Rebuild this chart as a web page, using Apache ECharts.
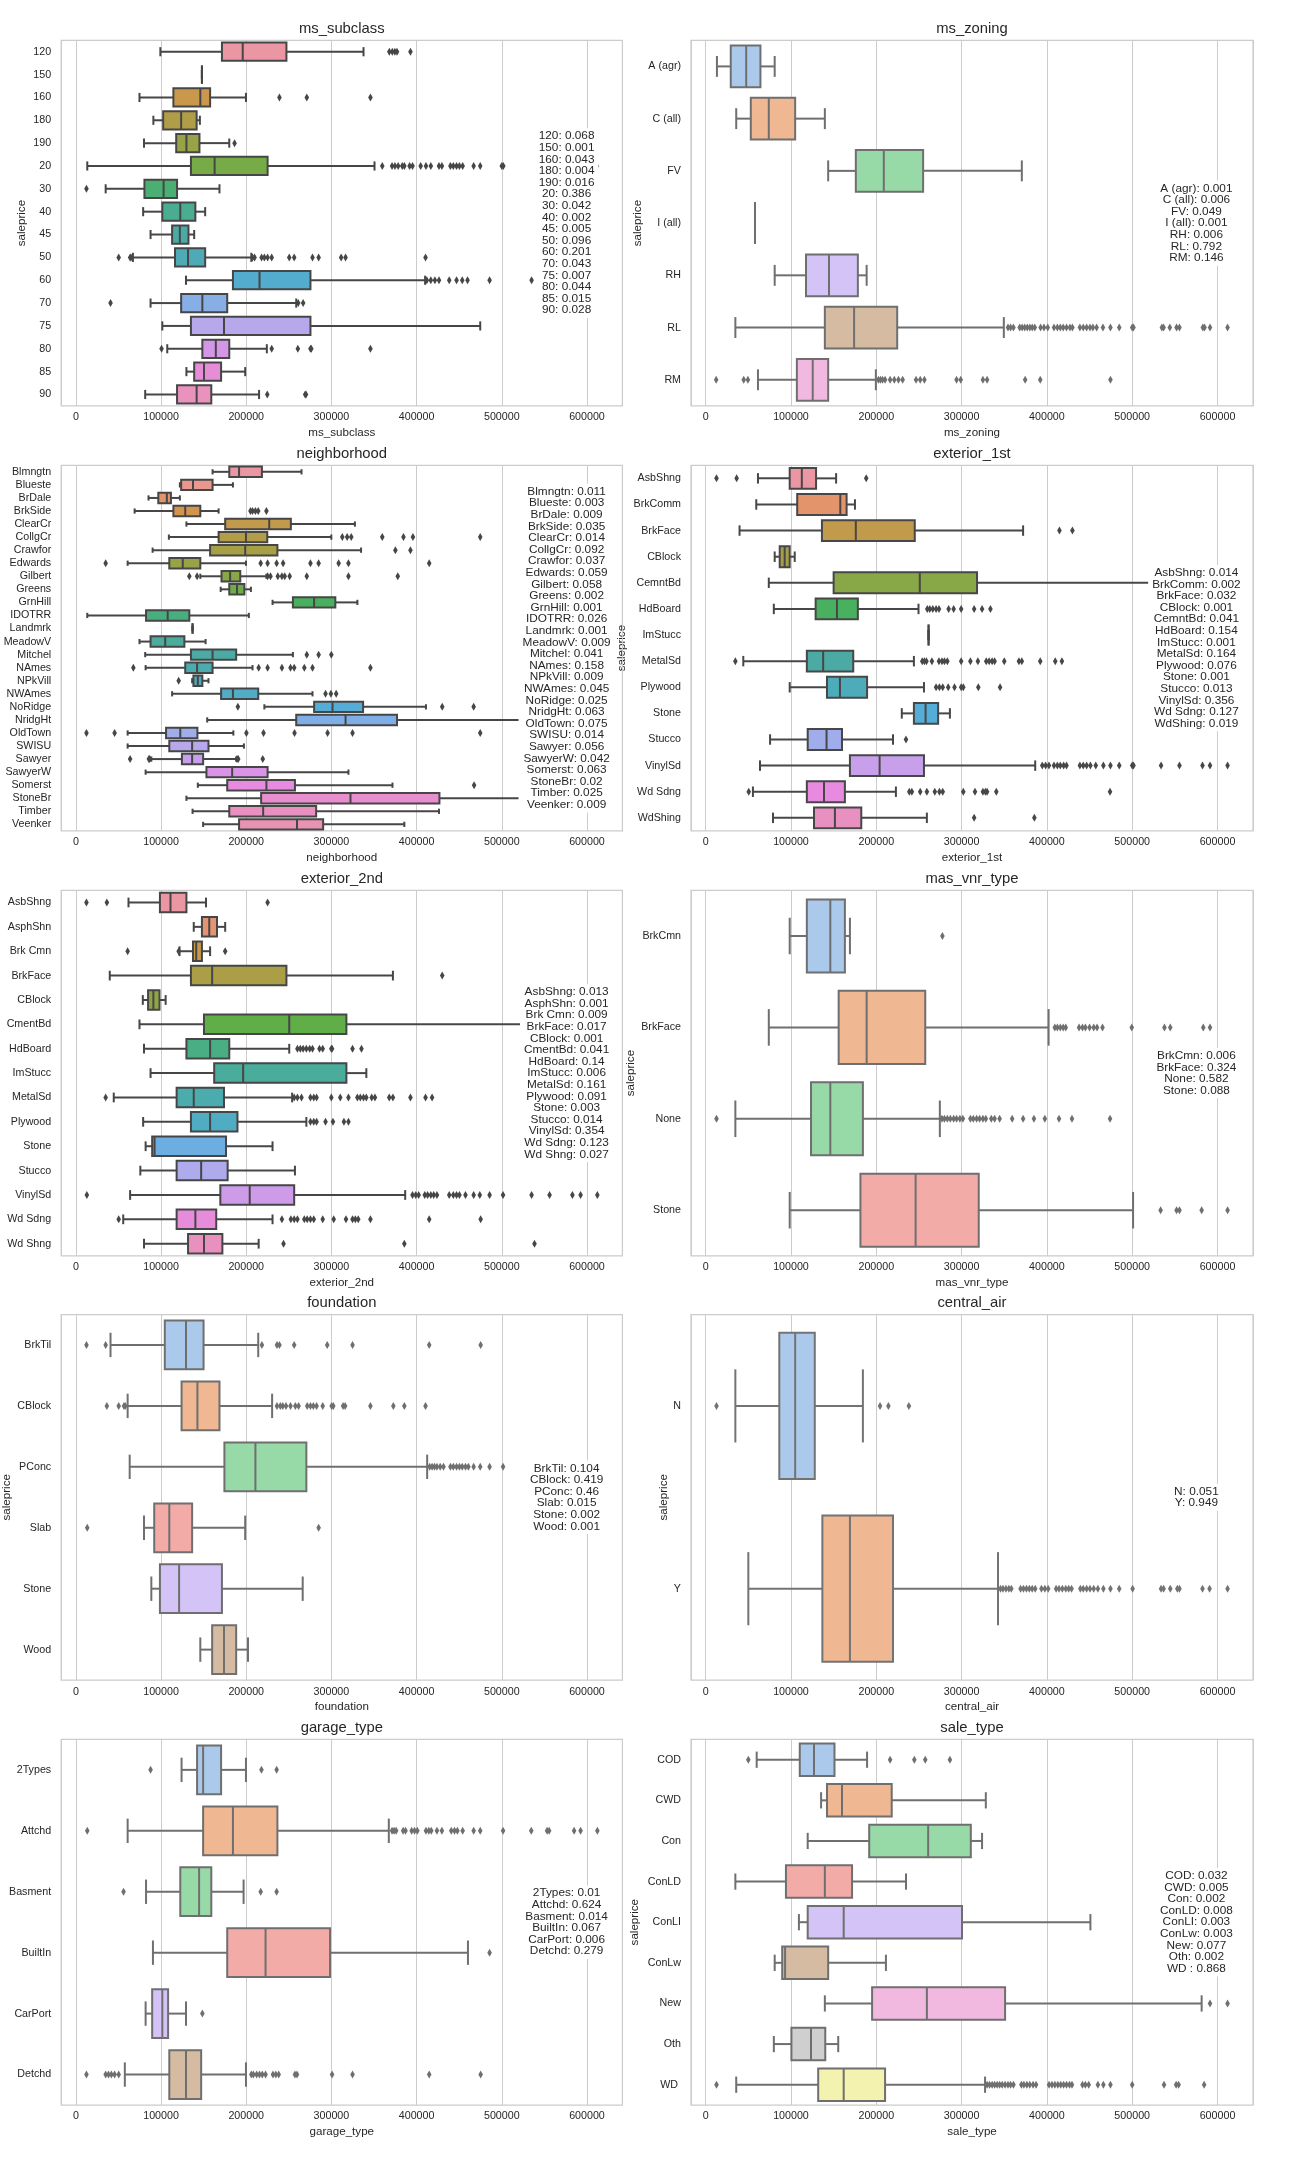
<!DOCTYPE html>
<html><head><meta charset="utf-8">
<script src="https://cdn.jsdelivr.net/npm/echarts@6/dist/echarts.min.js"></script>
<style>html,body{margin:0;padding:0;background:#fff}#c{width:1296px;height:2160px}</style>
</head><body><div id="c"></div>
<script>
// ---------------- DATA ----------------
// box rows: [whisker low, Q1, median, Q3, whisker high]
const msSubclassCats = ['120','150','160','180','190','20','30','40','45','50','60','70','75','80','85','90'];
const msSubclassBox = [
 [99200,171500,195900,247200,337700],[148000,148000,148000,148000,148000],[74700,114500,146100,157600,199700],
 [91000,102500,123600,141800,145600],[80000,117800,129800,145100,180100],[13400,135100,162900,225100,350600],
 [35000,80500,103000,118800,168600],[79000,101500,122600,140300,151800],[87700,113000,122100,132200,138900],
 [67000,116400,131700,151800,206000],[129300,184400,215600,275400,410000],[87700,123600,148500,177700,258700],
 [101500,135100,173900,275400,474700],[107300,148500,164300,180100,224200],[129800,138900,150400,170500,198800],
 [81400,118800,141800,159000,215100]];
const msSubclassOut = [
 [368000,371500,374500,377000,392800],[],[239000,271100,345800],[],[186300],
 [359700,371200,374600,378400,383200,385600,391800,395200,404800,411000,416700,426300,429700,439700,443100,446900,450300,454100,467000,474700,500000,501800,611700],
 [12450],[],[],
 [50300,63700,64700,207400,209800,218000,221300,225100,229900,250500,256300,277800,285000,311400,316600,410500],
 [412000,416700,421500,426300,438300,446900,453600,459800,485700,535000,546000],
 [40700,261000,266800],[],[100600,229900,260600,275400,276400,345800],[],[224700,269200,270200]];
const msSubclassShare = ['0.068','0.001','0.043','0.004','0.016','0.386','0.042','0.002','0.005','0.096','0.201','0.043','0.007','0.044','0.015','0.028'];

const msZoningCats = ['A (agr)','C (all)','FV','I (all)','RH','RL','RM'];
const msZoningBox = [
 [13200,29400,47500,64200,80900],[35800,52900,74000,104900,139700],[143600,176000,208800,254900,370600],
 [57800,57800,57800,57800,57800],[80900,117600,144600,178400,188700],[34800,139700,174000,224500,349500],
 [61300,106900,125500,143600,199500]];
const msZoningOut = [[],[],[],[],[],
 [354400,357400,360800,368100,371000,374000,377000,380000,382800,385800,392600,396600,401000,408300,412300,415700,419100,423000,427000,429900,438700,442600,446600,450500,453900,458300,465700,474500,484800,500000,501500,534800,536800,544100,552000,555400,582800,584800,591200,611800],
 [12300,44600,49500,202500,204900,207300,210300,216200,221100,226000,230900,246600,251500,256400,294100,299000,325000,329900,374500,392200,474500]];
const msZoningShare = ['0.001','0.006','0.049','0.001','0.006','0.792','0.146'];

const neighborhoodCats = ['Blmngtn','Blueste','BrDale','BrkSide','ClearCr','CollgCr','Crawfor','Edwards','Gilbert','Greens','GrnHill','IDOTRR','Landmrk','MeadowV','Mitchel','NAmes','NPkVill','NWAmes','NoRidge','NridgHt','OldTown','SWISU','Sawyer','SawyerW','Somerst','StoneBr','Timber','Veenker'];
const neighborhoodBox = [
 [160500,180100,191600,218400,264900],[122100,123600,137500,160500,184400],[85300,96800,106800,111600,122100],
 [69000,114500,128400,146100,167600],[129800,175300,227000,252400,327600],[109200,167600,199700,224700,299900],
 [90100,157600,198800,236600,334800],[60800,109700,125500,146100,199700],[146100,171000,181100,193000,223700],
 [170000,180100,189200,197800,205500],[230900,254800,279700,304600,330500],[13400,82400,107800,133200,203100],
 [137000,137000,137000,137000,137000],[74700,87700,104900,127400,152300],[81400,135100,160500,188200,254800],
 [81900,128400,142300,160500,207400],[136500,138000,143200,148500,155700],[113000,170500,184400,214100,277800],
 [221300,279700,301300,337200,411000],[154200,258700,316600,377000,555000],[60800,105900,122600,142700,184900],
 [60800,109700,136500,155700,197300],[88600,124500,136500,149400,188200],[81900,153300,183500,225100,320000],
 [143200,177700,223700,257200,371700],[129800,217500,322400,426800,556600],[137000,180100,219900,282100,426300],
 [149400,191600,259600,290300,385600]];
const neighborhoodOut = [[],[],[],[205000,207400,210800,214100,223700],[],
 [312800,318500,323300,359700,384600,395700,474700],[375100,392800],
 [35000,217000,225100,235700,243300,275400,285000,308500,320000,414800],
 [133200,142300,225100,228500,237100,241900,245200,251000,271100,320000,377900],
 [],[],[],[],[],[271100,285000,299900],
 [67500,214600,225100,241900,252000,256300,268200,277800,345800],[120700],[293100,299400,305600],
 [190200,430100,467000],[582900,611700],[12450,45500,200200,220300,256700,295500,324800,474700],[],
 [63700,85700,86700,189200,190600,219400],[],[467500],[],[],[]];
const neighborhoodShare = ['0.011','0.003','0.009','0.035','0.014','0.092','0.037','0.059','0.058','0.002','0.001','0.026','0.001','0.009','0.041','0.158','0.009','0.045','0.025','0.063','0.075','0.014','0.056','0.042','0.063','0.02','0.025','0.009'];

const exterior1Cats = ['AsbShng','BrkComm','BrkFace','CBlock','CemntBd','HdBoard','ImStucc','MetalSd','Plywood','Stone','Stucco','VinylSd','Wd Sdng','WdShing'];
const exterior1Box = [
 [61300,98500,112700,129400,152900],[59300,107300,157800,165200,175000],[39700,136300,176000,245100,372100],
 [80900,86800,92600,98500,104400],[74000,150000,251000,318100,556600],[79900,128900,153900,178400,249500],
 [261300,261300,261300,261300,261300],[44100,118600,137700,173000,244100],[98500,142200,157400,189200,255900],
 [229900,244100,257800,272500,286300],[75500,119600,141700,159800,219600],[63700,169100,203900,255900,386300],
 [55400,118600,138700,163200,223000],[78900,127000,151500,182400,259300]];
const exterior1Out = [[12700,36300,188200],[],[414700,429900],[],[],
 [259800,262700,266200,270100,273500,284800,290700,299500,314700,324000,333800],[],
 [34800,253900,256400,258800,265200,273500,277000,279900,283300,299500,310300,319100,328900,332300,335800,338700,350000,367200,370600,392200,409800,417600],
 [270100,274000,277900,284300,291700,299500,302000,319600,345100],[],[234800],
 [394600,398500,402400,408300,412300,415700,419600,423000,438700,442600,446600,451000,457300,466200,474500,484800,500000,501500,533800,555400,582400,591200,611800],
 [50500,238700,241700,251500,259300,268600,274000,277900,302000,315700,325000,327900,329900,340700,474000],
 [314700,385300]];
const exterior1Share = ['0.014','0.002','0.032','0.001','0.041','0.154','0.001','0.164','0.076','0.001','0.013','0.356','0.127','0.019'];

const exterior2Cats = ['AsbShng','AsphShn','Brk Cmn','BrkFace','CBlock','CmentBd','HdBoard','ImStucc','MetalSd','Plywood','Stone','Stucco','VinylSd','Wd Sdng','Wd Shng'];
const exterior2Box = [
 [61800,98700,111100,129800,152800],[138400,148000,156600,165700,175300],[121700,137500,141300,148000,157600],
 [39800,135100,160000,247200,372200],[78600,84800,91000,98200,105400],[74700,150400,250500,317600,556600],
 [80000,129800,157600,180100,250500],[87700,162400,196400,317600,341000],[44500,118300,138400,173900,253900],
 [79000,135100,157600,189700,270600],[81900,89600,92400,176300,230900],[75700,118300,147100,178200,257200],
 [63700,169600,204100,256300,386600],[55600,118300,140300,164800,230900],[80000,131700,150400,172000,214600]];
const exterior2Out = [[12450,36400,225100],[],[60800,120700,175300],[430100],[],[],
 [260100,263500,266800,270600,274500,277800,286000,289800,299900,300800,324800,335300],[],
 [35000,256300,260100,264900,275400,279300,282600,299900,310400,320000,330500,333900,337700,341000,347300,351100,367900,372200,392800,410500,418200],
 [275400,279300,282600,293100,301800,314700,320000],[],[],
 [12900,395200,399000,402400,409600,412900,416700,420100,423900,438300,443100,446900,450300,457400,467000,474200,485700,501500,535000,556100,582900,592500,612200],
 [50300,241900,252400,256300,260100,268200,271600,275400,279300,289800,302700,317100,324800,328100,331500,345800,414800,475200],
 [243800,385600,538400]];
const exterior2Share = ['0.013','0.001','0.009','0.017','0.001','0.041','0.14','0.006','0.161','0.091','0.003','0.014','0.354','0.123','0.027'];

const masVnrCats = ['BrkCmn','BrkFace','None','Stone'];
const masVnrBox = [[98500,118600,146100,163200,169100],[74000,155900,188700,257400,402000],[34800,123500,146100,184300,274500],[98500,181400,246100,320100,501000]];
const masVnrOut = [[277500],
 [409300,412300,415700,419100,422100,437700,441700,445100,450000,454900,458800,465200,499500,537800,544600,583300,591200],
 [12700,277000,279900,283300,286800,290700,294100,298000,301500,310300,313700,317600,321100,325000,328400,334800,338700,344600,359300,372100,384800,397600,414200,429400,474000],
 [533300,552000,555400,581400,611800]];
const masVnrShare = ['0.006','0.324','0.582','0.088'];

const foundationCats = ['BrkTil','CBlock','PConc','Slab','Stone','Wood'];
const foundationBox = [[40700,104400,129300,149900,214100],[60800,124100,142700,168600,230400],[63200,174400,210800,270600,412400],
 [80000,92000,109700,136500,198800],[88600,98700,121200,171500,266300],[146100,160000,173900,188200,202100]];
const foundationOut = [[12450,35000,218400,236100,239000,256300,295100,324800,414800,475200],
 [36400,50300,56500,58000,236100,240000,242900,246700,252000,257700,261500,271600,275400,278800,282600,289800,300300,302200,313700,316100,345800,372700,385600,410500],
 [415300,418200,421000,423900,427700,431600,439700,443100,446900,450300,453600,457400,460800,467000,474700,485700,501500,535000],
 [13400,285000],[],[]];
const foundationShare = ['0.104','0.419','0.46','0.015','0.002','0.001'];

const centralAirCats = ['N','Y'];
const centralAirBox = [[34800,86300,104900,127900,184300],[50000,136800,169100,219600,342700]];
const centralAirOut = [[12700,204400,214200,238200],
 [345600,348500,352000,355400,358300,369100,372500,376000,379400,382800,386300,393600,397600,401500,410800,414200,418100,422100,425500,428900,439200,442600,446600,450500,454900,459800,466200,474500,484800,500500,533800,536800,544600,552900,555400,582400,590700,611800]];
const centralAirShare = ['0.051','0.949'];

const garageCats = ['2Types','Attchd','Basment','BuiltIn','CarPort','Detchd'];
const garageBox = [[124100,142300,149400,170500,199700],[60800,149400,184400,236600,367400],[82400,122600,144700,159000,196900],
 [90500,177700,222700,298400,460300],[81900,89600,101500,108300,129300],[57500,109700,129300,147100,199700]];
const garageOut = [[87700,217900,235700],
 [13400,371200,373600,376000,384200,387000,394200,397600,400900,411000,414300,417200,423900,429700,440700,444500,447900,454100,467000,474700,501500,534600,553200,555600,584900,592500,612200],
 [56000,217000,235700],[485700],[148500],
 [12450,35000,38300,41700,45500,50300,206000,208400,212200,215600,218900,222700,231400,234700,238100,257200,259600,300800,324800,414800,475200]];
const garageShare = ['0.01','0.624','0.014','0.067','0.006','0.279'];

const saleTypeCats = ['COD','CWD','Con','ConLD','ConLI','ConLw','New','Oth','WD '];
const saleTypeBox = [[59800,110300,127000,151000,189200],[135300,142200,159800,218100,328400],[119600,191700,260800,310800,324000],
 [34800,94100,139700,171600,234800],[109300,119600,161800,300500,451000],[80900,89700,93100,143600,211300],
 [139700,195100,259300,351000,581400],[79900,100500,123500,140200,155400],[35800,131900,161800,210300,327500]];
const saleTypeOut = [[50000,216200,244600,257400,286300],[],[],[],[],[],[591200,611800],[],
 [12700,329900,332800,335800,338700,341700,344600,347600,351000,354400,357400,360800,370100,373000,376500,379900,383800,387300,402500,405900,409300,412800,416200,419600,423000,426500,429400,441700,445100,449000,459800,466200,474500,500000,537300,551500,554400,584300]];
const saleTypeShare = ['0.032','0.005','0.002','0.008','0.003','0.003','0.077','0.002','0.868'];

// ---------------- STYLE / LAYOUT ----------------
const FONT = "'Liberation Sans', Arial, sans-serif";
const TXT = '#262626';
const X_MIN = -17200, X_MAX = 641600;
const GRID_LEFT = [61.2, 691];
const GRID_WIDTH = [561.2, 562];
const GRID_TOP = [40.3, 465.3, 890.3, 1314.5, 1739.4];
const GRID_H = 365.6;
const LW = 2;
const PASTEL = ['#a1c9f4','#ffb482','#8de5a1','#ff9f9b','#d0bbff','#debb9b','#fab0e4','#cfcfcf','#fffea3','#b9f2f0'];

// yOff: distance from the frame's left edge to the centre of the rotated "saleprice" label
const panels = [
 {name:'ms_subclass', cats:msSubclassCats, box:msSubclassBox, out:msSubclassOut, share:msSubclassShare, col:0, row:0, yOff:39.5},
 {name:'ms_zoning', cats:msZoningCats, box:msZoningBox, out:msZoningOut, share:msZoningShare, col:1, row:0, yOff:53},
 {name:'neighborhood', cats:neighborhoodCats, box:neighborhoodBox, out:neighborhoodOut, share:neighborhoodShare, col:0, row:1, yOff:68},
 {name:'exterior_1st', cats:exterior1Cats, box:exterior1Box, out:exterior1Out, share:exterior1Share, col:1, row:1, yOff:69},
 {name:'exterior_2nd', cats:exterior2Cats, box:exterior2Box, out:exterior2Out, share:exterior2Share, col:0, row:2, yOff:66.5},
 {name:'mas_vnr_type', cats:masVnrCats, box:masVnrBox, out:masVnrOut, share:masVnrShare, col:1, row:2, yOff:60.4},
 {name:'foundation', cats:foundationCats, box:foundationBox, out:foundationOut, share:foundationShare, col:0, row:3, yOff:54.7},
 {name:'central_air', cats:centralAirCats, box:centralAirBox, out:centralAirOut, share:centralAirShare, col:1, row:3, yOff:27.2},
 {name:'garage_type', cats:garageCats, box:garageBox, out:garageOut, share:garageShare, col:0, row:4, yOff:66.5},
 {name:'sale_type', cats:saleTypeCats, box:saleTypeBox, out:saleTypeOut, share:saleTypeShare, col:1, row:4, yOff:56}
];

// ---------------- COLOURS (seaborn husl / pastel, desaturated 0.75) ----------------
const HM = [[3.240969941904521,-1.537383177570093,-0.498610760293],[-0.96924363628087,1.87596750150772,0.041555057407175],[0.055630079696993,-0.20397695888897,1.056971514242878]];
const REF_U = 0.19783000664283, REF_V = 0.46831999493879, KAPPA = 903.2962962, EPS = 0.0088564516;
function maxChroma(L, H) {
  const hr = H * Math.PI / 180, sinH = Math.sin(hr), cosH = Math.cos(hr);
  const sub1 = Math.pow(L + 16, 3) / 1560896;
  const sub2 = sub1 > EPS ? sub1 : L / KAPPA;
  let res = Infinity;
  for (const [m1, m2, m3] of HM) {
    const top = (0.99915 * m1 + 1.05122 * m2 + 1.14460 * m3) * sub2;
    const rb = 0.86330 * m3 - 0.17266 * m2;
    const lb = 0.12949 * m3 - 0.38848 * m1;
    const bottom = (rb * sinH + lb * cosH) * sub2;
    for (const t of [0, 1]) {
      const C = L * (top - 1.05122 * t) / (bottom + 0.17266 * sinH * t);
      if (C > 0 && C < res) res = C;
    }
  }
  return res;
}
function huslToRgb(H, S, L) {
  const C = maxChroma(L, H) / 100 * S;
  const hr = H * Math.PI / 180;
  const U = Math.cos(hr) * C, V = Math.sin(hr) * C;
  const t = (L + 16) / 116;
  const Y = Math.pow(t, 3) > EPS ? Math.pow(t, 3) : (116 * t - 16) / KAPPA;
  const vu = U / (13 * L) + REF_U, vv = V / (13 * L) + REF_V;
  const X = -(9 * Y * vu) / ((vu - 4) * vv - vu * vv);
  const Z = (9 * Y - 15 * vv * Y - vv * X) / (3 * vv);
  return HM.map(r => { const c = r[0]*X + r[1]*Y + r[2]*Z; const s = c <= 0.0031308 ? 12.92*c : 1.055*Math.pow(c, 1/2.4) - 0.055; return Math.min(1, Math.max(0, s)); });
}
function hex2rgb(h){return [1,3,5].map(i=>parseInt(h.substr(i,2),16)/255);}
function rgb2hex(c){return '#'+c.map(v=>Math.round(Math.min(1,Math.max(0,v))*255).toString(16).padStart(2,'0')).join('');}
function hlsL(c){return (Math.max(...c)+Math.min(...c))/2;}
function desat(c,p){const l=hlsL(c);return c.map(v=>l+(v-l)*p);}
function huslPalette(n){const o=[];for(let i=0;i<n;i++){const h=((i/n+0.01)%1)*359;o.push(huslToRgb(h,0.9*99,0.7*99));}return o;}
function panelColors(n){
  const base = n <= 10 ? PASTEL.slice(0,n).map(hex2rgb) : huslPalette(n);
  const cols = base.map(c=>desat(c,0.75));
  const lum = Math.min(...cols.map(hlsL))*0.6;
  return {fills: cols.map(rgb2hex), gray: rgb2hex([lum,lum,lum])};
}

function makeRender(cols){
  return function(params, api){
    const k = api.value(0);
    const p = [1,2,3,4,5].map(d=>api.coord([api.value(d), k]));
    const band = api.size([0,1])[1];
    const hh = band*0.4, ch = band*0.2, y = p[0][1];
    const line=(x1,y1,x2,y2)=>({type:'line', shape:{x1,y1,x2,y2}, style:{stroke:cols.gray, lineWidth:LW}});
    return {type:'group', children:[
      line(p[0][0],y,p[1][0],y), line(p[3][0],y,p[4][0],y),
      line(p[0][0],y-ch,p[0][0],y+ch), line(p[4][0],y-ch,p[4][0],y+ch),
      {type:'rect', shape:{x:p[1][0], y:y-hh, width:p[3][0]-p[1][0], height:2*hh}, style:{fill:cols.fills[params.dataIndex], stroke:cols.gray, lineWidth:LW}},
      line(p[2][0],y-hh,p[2][0],y+hh)
    ]};
  };
}

const grid=[], xAxis=[], yAxis=[], series=[], graphic=[];
panels.forEach((p,i)=>{
  const L=GRID_LEFT[p.col], W=GRID_WIDTH[p.col], T=GRID_TOP[p.row];
  const cols = panelColors(p.cats.length);
  grid.push({left:L, top:T, width:W, height:GRID_H, show:true, borderColor:'#cccccc', borderWidth:1.25, backgroundColor:'#ffffff'});
  xAxis.push({type:'value', gridIndex:i, min:X_MIN, max:X_MAX, splitNumber:6,
    name:p.name, nameLocation:'middle', nameGap:21,
    nameTextStyle:{fontSize:11.6, color:TXT, fontFamily:FONT},
    axisLine:{show:false}, axisTick:{show:false},
    axisLabel:{showMinLabel:false, showMaxLabel:false, margin:6, fontSize:10.7, color:TXT, fontFamily:FONT,
      formatter:v=>(Math.abs(v % 100000) < 1 ? String(v) : '')},
    splitLine:{show:true, lineStyle:{color:'#cccccc', width:1}}});
  yAxis.push({type:'category', gridIndex:i, data:p.cats, inverse:true,
    axisLine:{show:false}, axisTick:{show:false}, splitLine:{show:false},
    axisLabel:{interval:0, margin:10, fontSize:10.7, color:TXT, fontFamily:FONT}});
  series.push({type:'custom', xAxisIndex:i, yAxisIndex:i, renderItem:makeRender(cols),
    data:p.box.map((b,k)=>[k].concat(b)), encode:{x:[1,2,3,4,5], y:0}, z:2, silent:true, clip:false});
  const pts=[]; p.out.forEach((arr,k)=>arr.forEach(v=>pts.push([v,k])));
  series.push({type:'scatter', xAxisIndex:i, yAxisIndex:i, data:pts, symbol:'diamond', symbolSize:[4.6,8],
    itemStyle:{color:cols.gray, opacity:1}, z:3, silent:true});
  graphic.push({type:'text', x:L+W/2, y:T-11.3, silent:true,
    style:{text:p.name, font:'14.8px '+FONT, fill:TXT, align:'center', verticalAlign:'middle'}});
  graphic.push({type:'text', x:L-p.yOff, y:T+GRID_H/2, rotation:Math.PI/2, silent:true,
    style:{text:'saleprice', font:'11.6px '+FONT, fill:TXT, align:'center', verticalAlign:'middle'}});
  graphic.push({type:'text', x:L+505.4, y:T+GRID_H/2, z:100, silent:true,
    style:{text:p.cats.map((c,k)=>c+': '+p.share[k]).join('\n'), font:'11.8px '+FONT, fill:TXT,
      align:'center', verticalAlign:'middle', lineHeight:11.6, backgroundColor:'#ffffff', padding:[2,4]}});
});

const chart = echarts.init(document.getElementById('c'), null, {renderer:'canvas'});
chart.setOption({animation:false, backgroundColor:'#ffffff', grid, xAxis, yAxis, series, graphic});
</script></body></html>
